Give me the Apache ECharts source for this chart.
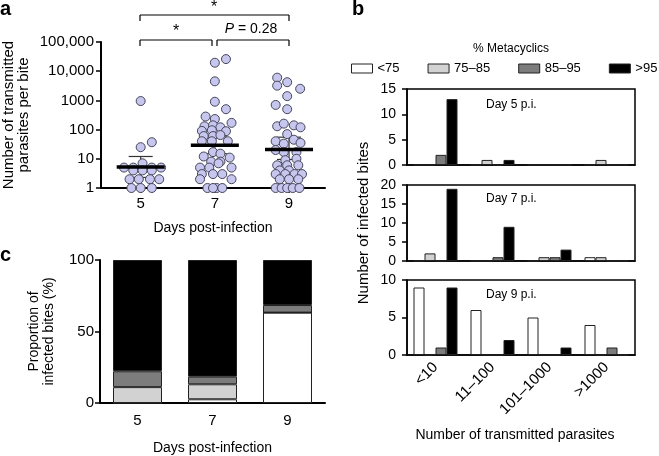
<!DOCTYPE html>
<html>
<head>
<meta charset="utf-8">
<script src="https://cdn.jsdelivr.net/npm/echarts@6/dist/echarts.min.js"></script>
<style>html,body{margin:0;padding:0;background:#fff}#c{width:659px;height:456px}</style>
</head>
<body>
<div id="c"></div>
<script>
// ---------- Panel a: transmitted parasites per bite (jittered day, count) ----------
const pointsDay5 = [[5.0,950],[5.0,25],[5.3,37],
  [4.55,5],[4.8,5],[5.05,7],[5.3,5],[5.55,5],
  [4.8,4],[5.05,4],[5.3,4],
  [4.7,2],[4.95,2],[5.25,2],[5.5,2],
  [4.75,1],[5.0,1],[5.3,1]];
const pointsDay7 = [[7.0,19500],[7.3,26000],[7.0,4500],[7.0,900],[7.3,500],
  [6.75,280],[7.0,230],[7.45,170],[6.72,130],[6.95,140],[7.15,120],[6.65,90],[6.92,95],[7.3,88],
  [6.7,60],[6.95,60],[7.15,65],[6.65,40],[6.92,40],[7.35,40],
  [6.95,17],[7.15,15],[7.4,11],[6.7,12],[6.9,8],[7.15,8],[6.6,5],[6.85,5],[7.1,7],[7.45,5],
  [6.65,3],[6.95,3],[7.2,3],[7.45,2],[6.6,2],[6.8,1],[7.05,1],[7.2,1],[6.95,1]];
const pointsDay9 = [[8.68,6000],[8.95,4200],[8.68,3200],[9.3,2500],[8.95,1400],[8.64,700],[8.95,500],
  [8.68,130],[8.86,160],[9.13,140],[9.31,120],
  [8.95,70],[8.64,40],[8.86,33],[9.13,45],[9.31,35],[8.64,20],[8.86,17],[9.2,17],[8.9,9],[9.2,10],
  [8.68,6],[8.95,6],[9.25,6],[8.75,4],[9.0,4],[8.64,3],[8.9,3],[9.15,3],[9.35,3],
  [8.75,2],[9.0,2],[9.25,2],[8.64,1],[8.8,1],[8.95,1],[9.1,1],[9.28,1]];
const meanDays = [5, 7, 9];
const meanVals = [5.2, 29, 21];
const ciLow = [2.3, 15, 9.5];
const ciHigh = [12, 60, 55];
const dayTicks = [5, 7, 9];

// ---------- Panel c: proportion of infected bites (%) ----------
const dayCats = ['5', '7', '9'];
const propLt75 = [0, 2.6, 63.2];
const prop75_85 = [11.1, 10.5, 0];
const prop85_95 = [11.1, 5.3, 5.3];
const propGt95 = [77.8, 81.6, 31.5];

// ---------- Panel b: number of infected bites by transmitted parasites ----------
const binCats = ['<10', '11\u2013100', '101\u20131000', '>1000'];
const metaNames = ['<75', '75\u201385', '85\u201395', '>95'];
const day5Counts = { lt75: [0,0,0,0], m75: [0,1,0,1], m85: [2,0,0,0], gt95: [13,1,0,0] };
const day7Counts = { lt75: [0,0,0,1], m75: [2,0,1,1], m85: [0,1,1,0], gt95: [19,9,3,0] };
const day9Counts = { lt75: [9,6,5,4], m75: [0,0,0,0], m85: [1,0,0,1], gt95: [9,2,1,0] };
const bMax = [15, 20, 10];

const metaColors = ['#ffffff', '#d2d2d2', '#7c7c7c', '#000000'];
const FONT = 'Liberation Sans, Arial, Helvetica, sans-serif';

const chart = echarts.init(document.getElementById('c'), null, {renderer: 'canvas'});

const axisLineStyle = (w) => ({show: true, lineStyle: {color: '#000', width: w}});

const grids = [
  {left: 100, top: 42, width: 225, height: 146},
  {left: 100, top: 260, width: 225, height: 148},
  {left: 407, top: 89, width: 228, height: 76, show: true, borderColor: '#000', borderWidth: 1.5},
  {left: 407, top: 185, width: 228, height: 76, show: true, borderColor: '#000', borderWidth: 1.5},
  {left: 407, top: 280, width: 228, height: 75, show: true, borderColor: '#000', borderWidth: 1.5}
];

const xAxes = [
  {gridIndex: 0, type: 'value', min: 3.93, max: 9.97,
   axisLine: axisLineStyle(2), splitLine: {show: false},
   axisTick: {show: true, customValues: dayTicks, length: 5, lineStyle: {color: '#000', width: 1.5}},
   axisLabel: {customValues: dayTicks, fontSize: 15, color: '#000', fontFamily: FONT, margin: 8},
   name: 'Days post-infection', nameLocation: 'middle', nameGap: 33,
   nameTextStyle: {fontSize: 14, color: '#000', fontFamily: FONT}},
  {gridIndex: 1, type: 'category', data: dayCats,
   axisLine: axisLineStyle(2),
   axisTick: {alignWithLabel: true, length: 5, lineStyle: {color: '#000', width: 1.5}},
   axisLabel: {fontSize: 15, color: '#000', fontFamily: FONT, margin: 10},
   name: 'Days post-infection', nameLocation: 'middle', nameGap: 38,
   nameTextStyle: {fontSize: 14, color: '#000', fontFamily: FONT}}
];
const yAxes = [
  {gridIndex: 0, type: 'log', logBase: 10, min: 1, max: 100000,
   axisLine: axisLineStyle(2), splitLine: {show: false}, minorTick: {show: false},
   axisTick: {show: true, length: 5, lineStyle: {color: '#000', width: 1.5}},
   axisLabel: {fontSize: 15, color: '#000', fontFamily: FONT, margin: 7,
     formatter: v => { const r = Math.round(v); return r >= 10000 ? r.toLocaleString('en-US') : String(r); }},
   name: 'Number of transmitted\nparasites per bite', nameLocation: 'middle', nameGap: 70,
   nameTextStyle: {fontSize: 15, color: '#000', fontFamily: FONT, lineHeight: 15}},
  {gridIndex: 1, type: 'value', min: 0, max: 100, interval: 50,
   axisLine: axisLineStyle(2), splitLine: {show: false},
   axisTick: {show: true, length: 5, lineStyle: {color: '#000', width: 1.5}},
   axisLabel: {fontSize: 15, color: '#000', fontFamily: FONT, margin: 6},
   name: 'Proportion of\ninfected bites (%)', nameLocation: 'middle', nameGap: 43,
   nameTextStyle: {fontSize: 14, color: '#000', fontFamily: FONT, lineHeight: 15}}
];
for (let i = 0; i < 3; i++) {
  xAxes.push({gridIndex: 2 + i, type: 'category', data: binCats,
    axisLine: axisLineStyle(1.5),
    axisTick: {alignWithLabel: true, length: 5, lineStyle: {color: '#000', width: 1.5}},
    axisLabel: {show: i === 2, rotate: 45, fontSize: 15, color: '#000', fontFamily: FONT, margin: 10}});
  yAxes.push({gridIndex: 2 + i, type: 'value', min: 0, max: bMax[i], interval: 5,
    axisLine: axisLineStyle(1.5), splitLine: {show: false},
    axisTick: {show: true, length: 5, lineStyle: {color: '#000', width: 1.5}},
    axisLabel: {fontSize: 14, color: '#000', fontFamily: FONT, margin: 11}});
}

const series = [];
// Error bars (CI)
series.push({
  type: 'custom', xAxisIndex: 0, yAxisIndex: 0, z: 2,
  data: meanDays.map((d, i) => [d, meanVals[i], ciLow[i], ciHigh[i]]),
  renderItem: (params, api) => {
    const lo = api.coord([api.value(0), api.value(2)]);
    const hi = api.coord([api.value(0), api.value(3)]);
    const st = {stroke: '#333', lineWidth: 1.2};
    return {type: 'group', children: [
      {type: 'line', shape: {x1: lo[0], y1: lo[1], x2: hi[0], y2: hi[1]}, style: st},
      {type: 'line', shape: {x1: lo[0]-12, y1: lo[1], x2: lo[0]+12, y2: lo[1]}, style: st},
      {type: 'line', shape: {x1: hi[0]-12, y1: hi[1], x2: hi[0]+12, y2: hi[1]}, style: st}
    ]};
  }
});
[pointsDay5, pointsDay7, pointsDay9].forEach(pts => {
  series.push({type: 'scatter', xAxisIndex: 0, yAxisIndex: 0, z: 3, data: pts,
    symbol: 'circle', symbolSize: 9,
    itemStyle: {color: '#c6c6ee', borderColor: '#45455a', borderWidth: 1, opacity: 1},
    emphasis: {disabled: true}});
});
series.push({
  type: 'custom', xAxisIndex: 0, yAxisIndex: 0, z: 4,
  data: meanDays.map((d, i) => [d, meanVals[i]]),
  renderItem: (params, api) => {
    const p = api.coord([api.value(0), api.value(1)]);
    return {type: 'line', shape: {x1: p[0]-24, y1: p[1], x2: p[0]+24, y2: p[1]},
      style: {stroke: '#000', lineWidth: 3.5}};
  }
});
// Panel c stacked bars
[propLt75, prop75_85, prop85_95, propGt95].forEach((arr, k) => {
  series.push({type: 'bar', name: metaNames[k], xAxisIndex: 1, yAxisIndex: 1, stack: 'c',
    data: arr, barWidth: 49,
    itemStyle: {color: metaColors[k], borderColor: '#222', borderWidth: 1}});
});
// Panel b grouped bars
[day5Counts, day7Counts, day9Counts].forEach((cnt, i) => {
  ['lt75', 'm75', 'm85', 'gt95'].forEach((key, k) => {
    series.push({type: 'bar', name: metaNames[k], xAxisIndex: 2 + i, yAxisIndex: 2 + i,
      data: cnt[key], barWidth: 11, barGap: '0%',
      itemStyle: {color: metaColors[k], borderColor: '#222', borderWidth: 1}});
  });
});

const txt = (text, x, y, opts) => Object.assign({type: 'text', x: x, y: y, style: Object.assign({
  text: text, fill: '#000', font: '14px ' + FONT, textAlign: 'center', textVerticalAlign: 'middle'}, opts || {})});
const ln = (x1, y1, x2, y2) => ({type: 'line', shape: {x1, y1, x2, y2}, style: {stroke: '#000', lineWidth: 1.2}});

const graphics = [
  txt('a', 0, 9, {font: 'bold 20px ' + FONT, textAlign: 'left'}),
  txt('b', 352, 9, {font: 'bold 20px ' + FONT, textAlign: 'left'}),
  txt('c', 0, 255, {font: 'bold 20px ' + FONT, textAlign: 'left'}),
  // significance brackets
  ln(140, 15, 289, 15), ln(140, 15, 140, 21), ln(289, 15, 289, 21),
  txt('*', 214, 8, {font: '16px ' + FONT}),
  ln(140, 40, 212, 40), ln(140, 40, 140, 46), ln(212, 40, 212, 46),
  txt('*', 176, 32, {font: '16px ' + FONT}),
  ln(217, 40, 289, 40), ln(217, 40, 217, 46), ln(289, 40, 289, 46),
  {type: 'text', x: 251, y: 29, style: {text: '{i|P} = 0.28', textAlign: 'center', textVerticalAlign: 'middle',
    font: '14px ' + FONT, fill: '#000', rich: {i: {fontStyle: 'italic', fontSize: 14, fontFamily: FONT}}}},
  // panel b texts
  txt('% Metacyclics', 511, 49, {font: '12px ' + FONT}),
  txt('Day 5 p.i.', 486, 105, {font: '12px ' + FONT, textAlign: 'left'}),
  txt('Day 7 p.i.', 486, 199, {font: '12px ' + FONT, textAlign: 'left'}),
  txt('Day 9 p.i.', 486, 295, {font: '12px ' + FONT, textAlign: 'left'}),
  Object.assign(txt('Number of infected bites', 364, 223, {font: '15px ' + FONT}), {rotation: Math.PI / 2}),
  txt('Number of transmitted parasites', 515, 435, {font: '14px ' + FONT})
];

chart.setOption({
  animation: false,
  textStyle: {fontFamily: FONT},
  grid: grids,
  xAxis: xAxes,
  yAxis: yAxes,
  legend: {data: metaNames, left: 351, top: 62, width: 400, itemWidth: 21, itemHeight: 9, itemGap: 28,
    icon: 'rect', selectedMode: false, padding: 0,
    itemStyle: {borderColor: '#222', borderWidth: 1},
    textStyle: {fontSize: 13, color: '#000', fontFamily: FONT}},
  series: series,
  graphic: graphics
});
</script>
</body>
</html>
